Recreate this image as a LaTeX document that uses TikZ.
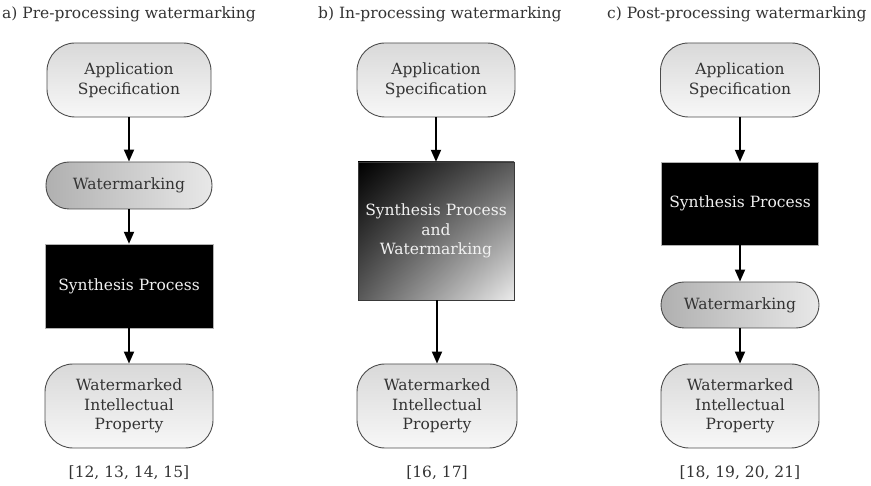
\documentclass[tikz,border=0pt]{standalone}
\usepackage{fontspec}
\setmainfont{DejaVu Serif}
\usetikzlibrary{arrows.meta,shadings}
\definecolor{ink}{gray}{0.2}
\definecolor{rim}{gray}{0.3}
\tikzset{
  spec/.style={draw=rim, line width=0.9pt, rounded corners=28pt, top color=gray!30,
    bottom color=gray!6, text=ink, align=center, inner sep=0pt,
    minimum width=164pt, minimum height=74pt},
  wmark/.style={draw=rim, line width=0.9pt, rounded corners=23pt, left color=gray!62,
    right color=gray!18, text=ink, align=center, inner sep=0pt,
    minimum width=166pt, minimum height=47pt},
  synth/.style={draw=gray!60, fill=black, text=gray!12, align=center, inner sep=0pt,
    minimum width=168pt, minimum height=84pt},
  flow/.style={line width=1.8pt, -{Triangle[length=12pt,width=10pt]}},
  cite/.style={text=ink},
  heading/.style={text=ink, anchor=west, inner sep=0pt},
}
\begin{document}
\begin{tikzpicture}[x=1pt,y=-1pt,font=\fontsize{15.5}{19.5}\selectfont]
\useasboundingbox (0,0) rectangle (871,486);
% headings
\node[heading] (ha) at (2,14) {a) Pre-processing watermarking};
\node[heading] (hb) at (318,14) {b) In-processing watermarking};
\node[heading] (hc) at (607,14) {c) Post-processing watermarking};
% a) pre-processing
\node[spec] (aspec) at (129,80) {Application\\Specification};
\node[wmark] (awm) at (129,185.5) {Watermarking};
\node[synth] (asyn) at (129,286) {Synthesis Process};
\node[spec,minimum width=168pt,minimum height=84pt] (awip) at (129,406)
  {Watermarked\\Intellectual\\Property};
\node[cite] (acite) at (129,473) {[12, 13, 14, 15]};
\draw[flow] (aspec) -- (awm);
\draw[flow] (awm) -- (asyn);
\draw[flow] (asyn) -- (awip);
% b) in-processing
\node[spec,minimum width=158pt] (bspec) at (436,80) {Application\\Specification};
\node[draw=gray!45!black, inner sep=0pt, minimum width=156pt, minimum height=138pt,
  upper left=black, upper right=gray!70!black, lower left=gray!70!black,
  lower right=gray!15, text=gray!10, align=center] (bsyn) at (436,231)
  {Synthesis Process\\and\\Watermarking};
\node[spec,minimum width=160pt,minimum height=84pt] (bwip) at (437,406)
  {Watermarked\\Intellectual\\Property};
\node[cite] (bcite) at (437,473) {[16, 17]};
\draw[flow] (bspec) -- (bsyn);
\draw[flow] (bsyn.south -| bwip) -- (bwip);
% c) post-processing
\node[spec,minimum width=159pt] (cspec) at (740,80) {Application\\Specification};
\node[synth,minimum width=157pt,minimum height=83pt] (csyn) at (740,203.5)
  {Synthesis Process};
\node[wmark,minimum width=158pt,minimum height=46pt] (cwm) at (740,305) {Watermarking};
\node[spec,minimum width=158pt,minimum height=84pt] (cwip) at (740,406)
  {Watermarked\\Intellectual\\Property};
\node[cite] (ccite) at (740,473) {[18, 19, 20, 21]};
\draw[flow] (cspec) -- (csyn);
\draw[flow] (csyn) -- (cwm);
\draw[flow] (cwm) -- (cwip);
\end{tikzpicture}
\end{document}
